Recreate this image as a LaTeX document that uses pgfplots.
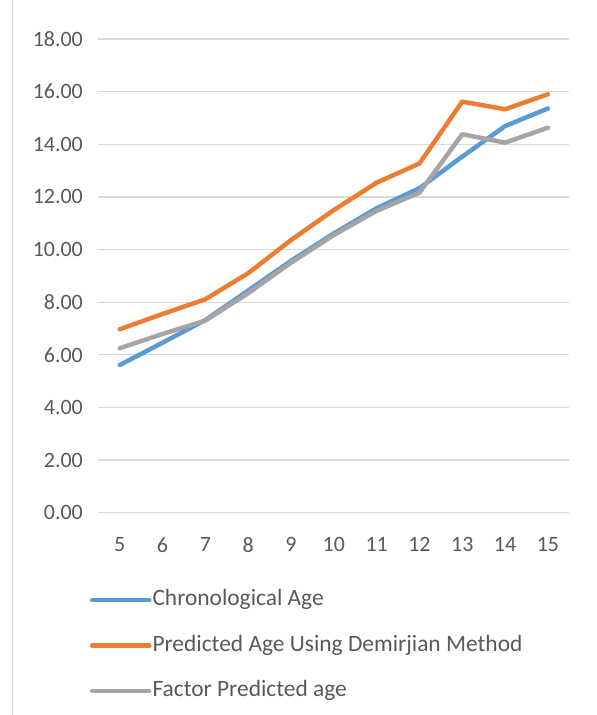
\documentclass[border=0pt]{standalone}
\usepackage{fontspec}
\setmainfont{Carlito}
\usepackage{pgfplots}
\pgfplotsset{compat=1.18}
\definecolor{cblue}{HTML}{5B9BD5}
\definecolor{corange}{HTML}{ED7D31}
\definecolor{cgrey}{HTML}{A5A5A5}
\definecolor{cgrid}{HTML}{D9D9D9}
\definecolor{ctext}{HTML}{595959}
\begin{document}
\begin{tikzpicture}
\path[use as bounding box] (0,0) rectangle (597bp,715bp);
\draw[cgrid, line width=1.5bp] (12.5bp,0) -- (12.5bp,715bp);
\begin{axis}[
  at={(98.3bp,202.3bp)}, anchor=south west,
  scale only axis, width=471bp, height=473.7bp,
  xmin=4.5, xmax=15.5, ymin=0, ymax=18,
  xtick={5,...,15}, ytick={0,2,...,18},
  axis line style={draw=none},
  major tick length=0pt,
  ymajorgrids, grid style={cgrid, line width=1.3bp},
  /pgf/number format/assume math mode=true,
  yticklabel style={/pgf/number format/fixed, /pgf/number format/fixed zerofill, /pgf/number format/precision=2, xshift=-12bp},
  ticklabel style={font=\fontsize{22}{24}\selectfont, text=ctext},
  xticklabel style={yshift=-21bp},
  legend style={at={(axis description cs:0,0)}, anchor=north west,
    xshift=-8.3bp, yshift=-77bp, draw=none, fill=none, inner sep=0pt, outer sep=0pt,
    font=\fontsize{23.5}{26}\selectfont, text=ctext,
    row sep=24.5bp,
    nodes={inner xsep=1bp, inner ysep=0pt, text height=16bp, text depth=5bp}},
  legend cell align=left,
  legend image code/.code={\draw[#1] (0bp,0bp) -- (57bp,0bp);},
  every axis plot/.append style={line width=4.5bp, line cap=round, line join=round},
]
\addplot[cblue] coordinates {(5,5.61) (6,6.46) (7,7.32) (8,8.44) (9,9.57) (10,10.61) (11,11.57) (12,12.33) (13,13.53) (14,14.69) (15,15.36)};
\addlegendentry{Chronological Age}
\addplot[corange] coordinates {(5,6.97) (6,7.55) (7,8.11) (8,9.10) (9,10.36) (10,11.50) (11,12.54) (12,13.27) (13,15.62) (14,15.33) (15,15.90)};
\addlegendentry{Predicted Age Using Demirjian Method}
\addplot[cgrey] coordinates {(5,6.25) (6,6.79) (7,7.30) (8,8.34) (9,9.50) (10,10.55) (11,11.47) (12,12.16) (13,14.38) (14,14.06) (15,14.63)};
\addlegendentry{Factor Predicted age}
\end{axis}
\end{tikzpicture}
\end{document}
